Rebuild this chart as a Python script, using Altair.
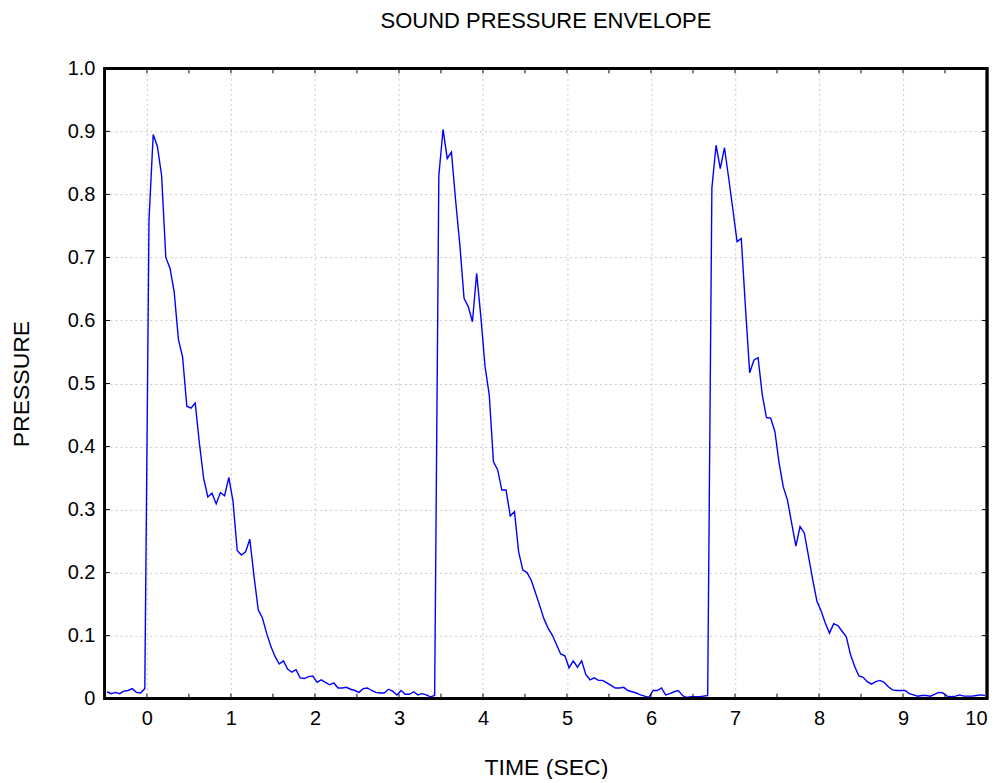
import altair as alt
import pandas as pd

# Sample times (s)
time_s = [
    -0.475, -0.425, -0.375, -0.325, -0.275, -0.225, -0.175, -0.125, -0.075, -0.025,
    0.025, 0.075, 0.125, 0.175, 0.225, 0.275, 0.325, 0.375, 0.425, 0.475,
    0.525, 0.575, 0.625, 0.675, 0.725, 0.775, 0.825, 0.875, 0.925, 0.975,
    1.025, 1.075, 1.125, 1.175, 1.225, 1.275, 1.325, 1.375, 1.425, 1.475,
    1.525, 1.575, 1.625, 1.675, 1.725, 1.775, 1.825, 1.875, 1.925, 1.975,
    2.025, 2.075, 2.125, 2.175, 2.225, 2.275, 2.325, 2.375, 2.425, 2.475,
    2.525, 2.575, 2.625, 2.675, 2.725, 2.775, 2.825, 2.875, 2.925, 2.975,
    3.025, 3.075, 3.125, 3.175, 3.225, 3.275, 3.325, 3.375, 3.425, 3.475,
    3.525, 3.575, 3.625, 3.675, 3.725, 3.775, 3.825, 3.875, 3.925, 3.975,
    4.025, 4.075, 4.125, 4.175, 4.225, 4.275, 4.325, 4.375, 4.425, 4.475,
    4.525, 4.575, 4.625, 4.675, 4.725, 4.775, 4.825, 4.875, 4.925, 4.975,
    5.025, 5.075, 5.125, 5.175, 5.225, 5.275, 5.325, 5.375, 5.425, 5.475,
    5.525, 5.575, 5.625, 5.675, 5.725, 5.775, 5.825, 5.875, 5.925, 5.975,
    6.025, 6.075, 6.125, 6.175, 6.225, 6.275, 6.325, 6.375, 6.425, 6.475,
    6.525, 6.575, 6.625, 6.675, 6.725, 6.775, 6.825, 6.875, 6.925, 6.975,
    7.025, 7.075, 7.125, 7.175, 7.225, 7.275, 7.325, 7.375, 7.425, 7.475,
    7.525, 7.575, 7.625, 7.675, 7.725, 7.775, 7.825, 7.875, 7.925, 7.975,
    8.025, 8.075, 8.125, 8.175, 8.225, 8.275, 8.325, 8.375, 8.425, 8.475,
    8.525, 8.575, 8.625, 8.675, 8.725, 8.775, 8.825, 8.875, 8.925, 8.975,
    9.025, 9.075, 9.125, 9.175, 9.225, 9.275, 9.325, 9.375, 9.425, 9.475,
    9.525, 9.575, 9.625, 9.675, 9.725, 9.775, 9.825, 9.875, 9.925, 9.975,
]

# Sound pressure envelope values
pressure = [
    0.011, 0.008, 0.010, 0.008, 0.012, 0.013, 0.016, 0.010, 0.009, 0.016,
    0.760, 0.895, 0.876, 0.830, 0.700, 0.683, 0.645, 0.570, 0.542, 0.464,
    0.461, 0.469, 0.405, 0.350, 0.320, 0.326, 0.309, 0.327, 0.322, 0.351,
    0.313, 0.235, 0.228, 0.233, 0.253, 0.194, 0.141, 0.128, 0.104, 0.083,
    0.067, 0.055, 0.060, 0.047, 0.042, 0.046, 0.033, 0.032, 0.035, 0.036,
    0.026, 0.030, 0.026, 0.022, 0.025, 0.017, 0.017, 0.018, 0.015, 0.013,
    0.010, 0.016, 0.017, 0.013, 0.010, 0.009, 0.009, 0.015, 0.012, 0.006,
    0.013, 0.007, 0.007, 0.011, 0.006, 0.008, 0.006, 0.003, 0.005, 0.830,
    0.903, 0.857, 0.867, 0.790, 0.720, 0.635, 0.622, 0.598, 0.675, 0.606,
    0.527, 0.482, 0.376, 0.363, 0.331, 0.331, 0.290, 0.297, 0.233, 0.204,
    0.200, 0.188, 0.168, 0.148, 0.127, 0.112, 0.101, 0.086, 0.071, 0.068,
    0.049, 0.060, 0.050, 0.060, 0.038, 0.030, 0.033, 0.029, 0.029, 0.025,
    0.021, 0.017, 0.017, 0.018, 0.013, 0.011, 0.009, 0.006, 0.004, 0.002,
    0.013, 0.013, 0.017, 0.006, 0.008, 0.011, 0.013, 0.005, 0.002, 0.003,
    0.003, 0.003, 0.004, 0.005, 0.810, 0.878, 0.841, 0.874, 0.826, 0.776,
    0.725, 0.730, 0.620, 0.517, 0.537, 0.541, 0.482, 0.446, 0.445, 0.424,
    0.374, 0.336, 0.315, 0.278, 0.242, 0.273, 0.263, 0.226, 0.189, 0.155,
    0.139, 0.120, 0.104, 0.119, 0.116, 0.107, 0.098, 0.070, 0.051, 0.036,
    0.034, 0.027, 0.023, 0.027, 0.029, 0.026, 0.019, 0.014, 0.013, 0.013,
    0.013, 0.008, 0.006, 0.004, 0.005, 0.005, 0.004, 0.007, 0.010, 0.009,
    0.004, 0.003, 0.004, 0.006, 0.004, 0.004, 0.004, 0.005, 0.006, 0.005,
]

x_major_ticks = [0, 1, 2, 3, 4, 5, 6, 7, 8, 9, 10]
x_all_ticks = [0, 0.5, 1, 1.5, 2, 2.5, 3, 3.5, 4, 4.5, 5, 5.5, 6, 6.5, 7, 7.5,
               8, 8.5, 9, 9.5, 10]
y_ticks = [0, 0.1, 0.2, 0.3, 0.4, 0.5, 0.6, 0.7, 0.8, 0.9, 1.0]

W, H = 883, 631
FONT = "Liberation Sans"

df = pd.DataFrame({"t": time_s, "p": pressure})
xt = pd.DataFrame({"t": x_all_ticks})
yt = pd.DataFrame({"p": y_ticks})

xscale = alt.Scale(domain=[-0.5, 10], nice=False, zero=False)
yscale = alt.Scale(domain=[0, 1], nice=False, zero=False)

x_axis = alt.Axis(values=x_major_ticks, title="TIME (SEC)", format="d",
                  grid=True, ticks=False, tickSize=0, domain=False,
                  labelPadding=20, labelBaseline="middle",
                  labelFont=FONT, labelFontSize=20, labelColor="black",
                  titleFont=FONT, titleFontSize=23, titleFontWeight="normal",
                  titleColor="black", titleBaseline="middle", titleY=69,
                  gridColor="#c8c8c8", gridDash=[2, 3], gridWidth=1)
y_axis = alt.Axis(values=y_ticks, title="PRESSURE",
                  labelExpr="datum.value == 0 ? '0' : format(datum.value, '.1f')",
                  grid=True, ticks=False, tickSize=0, domain=False,
                  labelPadding=10,
                  labelFont=FONT, labelFontSize=20, labelColor="black",
                  titleFont=FONT, titleFontSize=23, titleFontWeight="normal",
                  titleColor="black", titleX=-83, titleBaseline="middle",
                  gridColor="#c8c8c8", gridDash=[2, 3], gridWidth=1)

line = alt.Chart(df).mark_line(color="#0000ff", strokeWidth=1.4, clip=True).encode(
    x=alt.X("t:Q", scale=xscale, axis=x_axis),
    y=alt.Y("p:Q", scale=yscale, axis=y_axis),
)

bottom_ticks = alt.Chart(xt).mark_rule(color="black", strokeWidth=1).encode(
    x=alt.X("t:Q", scale=xscale, axis=x_axis), y=alt.value(H), y2=alt.value(H - 5))
top_ticks = alt.Chart(xt).mark_rule(color="black", strokeWidth=1).encode(
    x=alt.X("t:Q", scale=xscale, axis=x_axis), y=alt.value(0), y2=alt.value(5))
left_ticks = alt.Chart(yt).mark_rule(color="black", strokeWidth=1).encode(
    y=alt.Y("p:Q", scale=yscale, axis=y_axis), x=alt.value(0), x2=alt.value(5))
right_ticks = alt.Chart(yt).mark_rule(color="black", strokeWidth=1).encode(
    y=alt.Y("p:Q", scale=yscale, axis=y_axis), x=alt.value(W - 5), x2=alt.value(W))

frame = alt.Chart(yt).mark_rect(fill=None, stroke="black", strokeWidth=2.2).encode(
    x=alt.value(0), x2=alt.value(W), y=alt.value(0), y2=alt.value(H))

chart = alt.layer(line, bottom_ticks, top_ticks, left_ticks, right_ticks, frame).properties(
    width=W, height=H,
    background="white",
    title=alt.TitleParams("SOUND PRESSURE ENVELOPE", fontSize=22, font=FONT,
                          fontWeight="normal", anchor="middle", color="black",
                          offset=25),
    autosize=alt.AutoSizeParams(type="none"),
    padding={"left": 97, "top": 60, "right": 10, "bottom": 80},
).configure_view(
    stroke=None
)

chart.save("out.html", embed_options={"renderer": "svg", "actions": False})
